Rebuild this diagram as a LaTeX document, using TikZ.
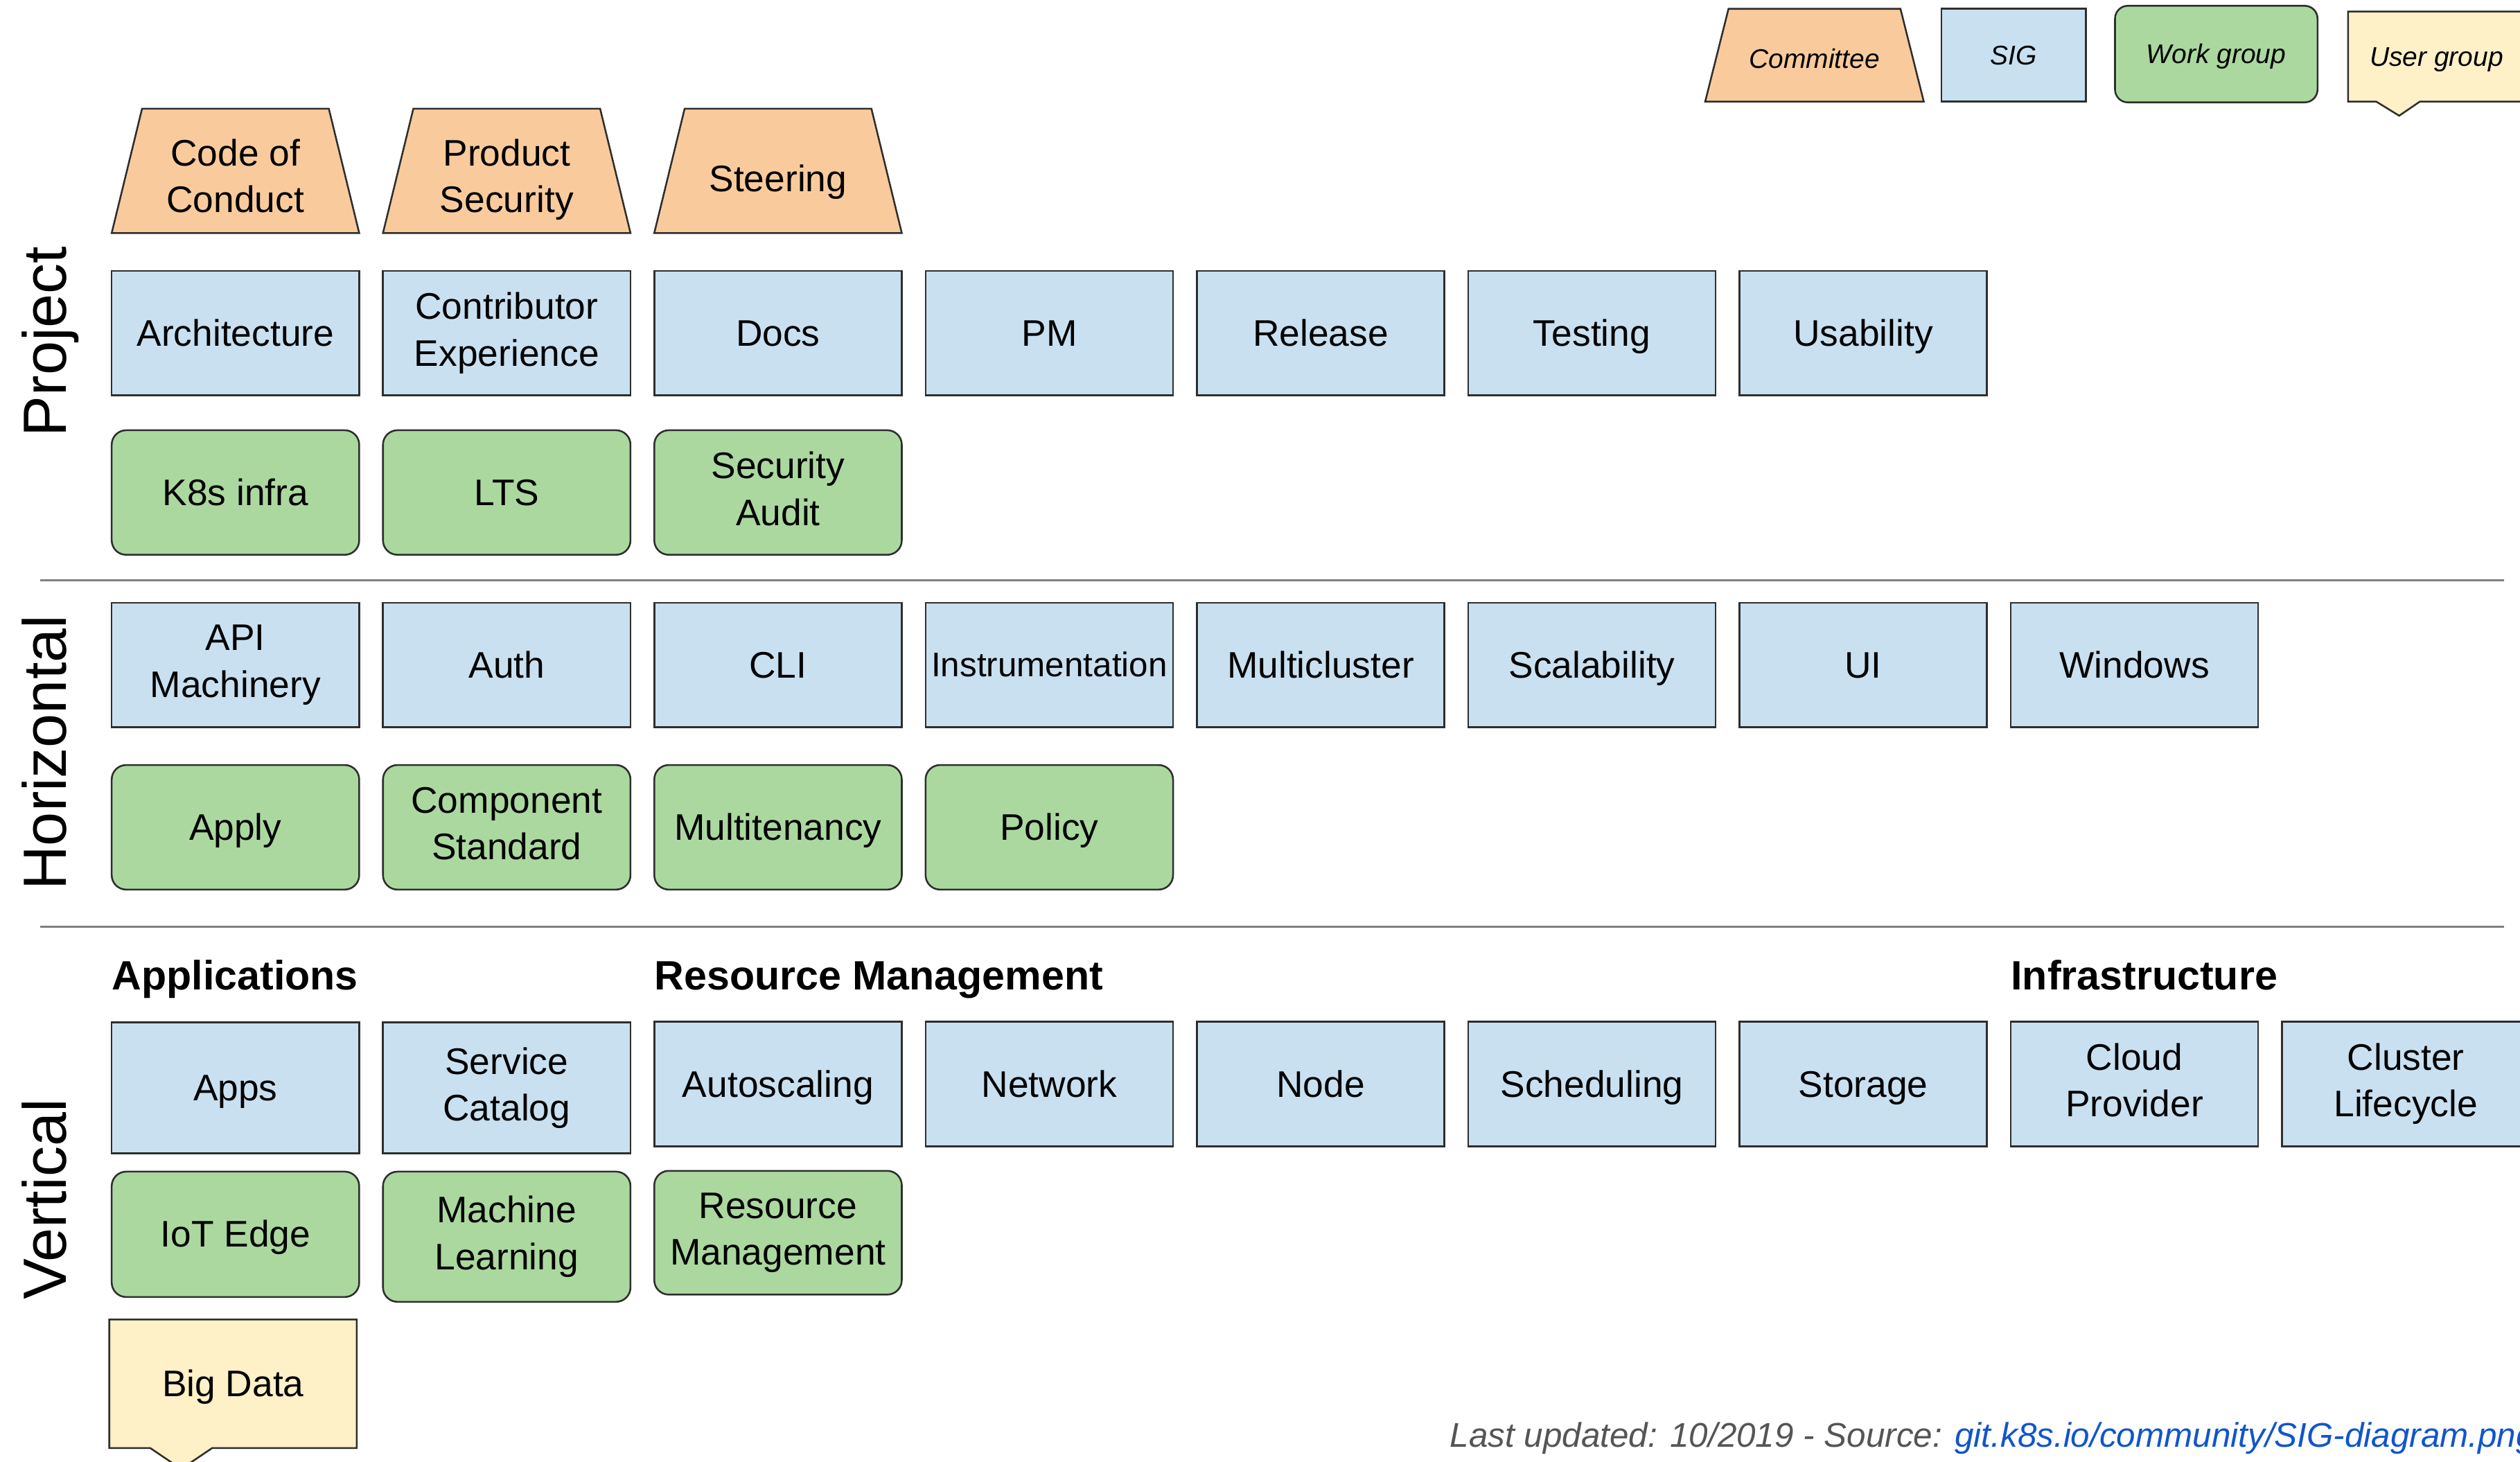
\documentclass[tikz,border=0pt]{standalone}
\usepackage{fontspec}
\setmainfont{Liberation Sans}
\usetikzlibrary{calc}
\definecolor{cmtfill}{HTML}{F9CB9C}
\definecolor{sigfill}{HTML}{C9E0F0}
\definecolor{wgfill}{HTML}{ABD89F}
\definecolor{ugfill}{HTML}{FEF0C7}
\definecolor{edgecol}{HTML}{2E2E2E}
\definecolor{divcol}{HTML}{808080}
\definecolor{footcol}{HTML}{555555}
\definecolor{linkblue}{HTML}{1155CC}
\newcommand{\bxstrut}{\rule[-0.212em]{0pt}{1.117em}}
\begin{document}
\begin{tikzpicture}[x=1pt,y=-1pt,
  boxtext/.style={align=center, inner sep=0pt, outer sep=0pt, text=black,
    font=\fontsize{23}{29}\selectfont,
    execute at begin node=\bxstrut, execute at end node=\bxstrut},
  legtext/.style={font=\fontsize{16.8}{20}\selectfont\itshape},
  sigbox/.style={boxtext, rectangle, draw=edgecol, line width=1.1pt, fill=sigfill,
    minimum width=154pt, minimum height=77.5pt},
  wgbox/.style={boxtext, rectangle, rounded corners=9pt, draw=edgecol, line width=1.1pt,
    fill=wgfill, minimum width=154pt, minimum height=77.5pt},
  cmtframe/.style={rectangle, inner sep=0pt, outer sep=0pt,
    minimum width=154pt, minimum height=77.4pt},
  cmttrap/.style={draw=edgecol, line width=1.1pt, fill=cmtfill, line join=miter},
  ugshape/.style={draw=edgecol, line width=1.1pt, fill=ugfill},
  sidelabel/.style={rotate=90, anchor=base, inner sep=0pt, font=\fontsize{38}{40}\selectfont},
  heading/.style={anchor=base west, inner sep=0pt, font=\fontsize{25.5}{29}\selectfont\bfseries},
  divider/.style={draw=divcol, line width=1.3pt}
]
\newcommand{\trap}[2]{%
  \path[cmttrap] (#1.south west) -- (#1.south east) -- ([xshift=-#2]#1.north east)
    -- ([xshift=#2]#1.north west) -- cycle;}
\path[use as bounding box] (0,0) rectangle (1568,909.25);
\fill[white] (0,0) rectangle (1568,909.25);
\clip (0,0) rectangle (1568,909.25);

% ---------- legend ----------
\node[cmtframe, minimum width=136pt, minimum height=57.7pt] (lgcmt) at (1129,34.35) {};
\trap{lgcmt}{14.5pt}
\node[boxtext, legtext] (lgcmt-t) at ([yshift=-2.5pt]lgcmt.center) {Committee};
\node[sigbox, legtext, minimum width=90pt, minimum height=57.7pt] (lgsig) at (1253,34.35) {SIG};
\node[wgbox, legtext, minimum width=126pt, minimum height=60.1pt, rounded corners=8pt] (lgwg) at (1379,33.65) {Work group};
\path[ugshape] (1461,7.2) -- (1571,7.2) -- (1571,63.2) -- (1505.7,63.2) -- (1492.8,72)
  -- (1478.5,63.2) -- (1461,63.2) -- cycle;
\node[boxtext, legtext] (lgug) at (1516,35.2) {User group};

% ---------- side labels ----------
\node[sidelabel] (project) at (41.3,212.5) {Project};
\node[sidelabel] (horizontal) at (41.3,468.3) {Horizontal};
\node[sidelabel] (vertical) at (41.3,746.2) {Vertical};

% ---------- dividers ----------
\coordinate (d1a) at (25,360.9);
\coordinate (d1b) at (1558,360.9);
\coordinate (d2a) at (25,576.7);
\coordinate (d2b) at (1558,576.7);
\draw[divider] (d1a) -- (d1b);
\draw[divider] (d2a) -- (d2b);

% ---------- Project ----------
\node[cmtframe] (coc) at (146.5,106.3) {};
\trap{coc}{18.9pt}
\node[boxtext] (coc-t) at ([yshift=-5.4pt]coc.center) {Code of\\Conduct};
\node[cmtframe] (prodsec) at (315.3,106.3) {};
\trap{prodsec}{18.9pt}
\node[boxtext] (prodsec-t) at ([yshift=-5.4pt]prodsec.center) {Product\\Security};
\node[cmtframe] (steering) at (484.1,106.3) {};
\trap{steering}{18.9pt}
\node[boxtext] (steering-t) at ([yshift=-5.0pt]steering.center) {Steering};

\node[sigbox] (arch) at (146.5,207.3) {Architecture};
\node[sigbox] (contribex) at (315.3,207.3) {Contributor\\Experience};
\node[sigbox] (docs) at (484.1,207.3) {Docs};
\node[sigbox] (pm) at (652.9,207.3) {PM};
\node[sigbox] (release) at (821.7,207.3) {Release};
\node[sigbox] (testing) at (990.5,207.3) {Testing};
\node[sigbox] (usability) at (1159.3,207.3) {Usability};

\node[wgbox] (k8sinfra) at (146.5,306.45) {K8s infra};
\node[wgbox] (lts) at (315.3,306.45) {LTS};
\node[wgbox] (secaudit) at (484.1,306.45) {Security\\Audit};

% ---------- Horizontal ----------
\node[sigbox] (apimach) at (146.5,413.8) {API\\Machinery};
\node[sigbox] (auth) at (315.3,413.8) {Auth};
\node[sigbox] (cli) at (484.1,413.8) {CLI};
\node[sigbox, font=\fontsize{21.3}{27}\selectfont] (instr) at (652.9,413.8) {Instrumentation};
\node[sigbox] (multicluster) at (821.7,413.8) {Multicluster};
\node[sigbox] (scalability) at (990.5,413.8) {Scalability};
\node[sigbox] (ui) at (1159.3,413.8) {UI};
\node[sigbox] (windows) at (1328.1,413.8) {Windows};

\node[wgbox] (apply) at (146.5,514.75) {Apply};
\node[wgbox] (compstd) at (315.3,514.75) {Component\\Standard};
\node[wgbox] (multitenancy) at (484.1,514.75) {Multitenancy};
\node[wgbox] (policy) at (652.9,514.75) {Policy};

% ---------- Vertical ----------
\node[heading] (happs) at (69.5,616) {Applications};
\node[heading] (hres) at (407.1,616) {Resource Management};
\node[heading] (hinfra) at (1251.1,616) {Infrastructure};

\node[sigbox, minimum height=81.7pt] (apps) at (146.5,676.85) {Apps};
\node[sigbox, minimum height=81.7pt] (svccat) at (315.3,676.85) {Service\\Catalog};
\node[sigbox, minimum height=77.6pt] (autoscaling) at (484.1,674.5) {Autoscaling};
\node[sigbox, minimum height=77.6pt] (network) at (652.9,674.5) {Network};
\node[sigbox, minimum height=77.6pt] (nodesig) at (821.7,674.5) {Node};
\node[sigbox, minimum height=77.6pt] (scheduling) at (990.5,674.5) {Scheduling};
\node[sigbox, minimum height=77.6pt] (storage) at (1159.3,674.5) {Storage};
\node[sigbox, minimum height=77.6pt] (cloudprov) at (1328.1,674.5) {Cloud\\Provider};
\node[sigbox, minimum height=77.6pt] (clusterlc) at (1496.9,674.5) {Cluster\\Lifecycle};

\node[wgbox, minimum height=78pt] (iotedge) at (146.5,768) {IoT Edge};
\node[wgbox, minimum height=81pt] (ml) at (315.3,769.5) {Machine\\Learning};
\node[wgbox, minimum height=77pt] (resmgmt) at (484.1,767) {Resource\\Management};

\path[ugshape] (68,821) -- (222,821) -- (222,901) -- (132,901) -- (112.75,914)
  -- (93.5,901) -- (68,901) -- cycle;
\node[boxtext] (bigdata) at (145,861) {Big Data};

% ---------- footer ----------
\node[anchor=base west, inner sep=0pt, font=\fontsize{21.3}{25}\selectfont\itshape] (footer) at (902,900.5)
  {\textcolor{footcol}{Last updated: 10/2019 - Source: }\textcolor{linkblue}{git.k8s.io/community/SIG-diagram.png}};
\end{tikzpicture}
\end{document}
